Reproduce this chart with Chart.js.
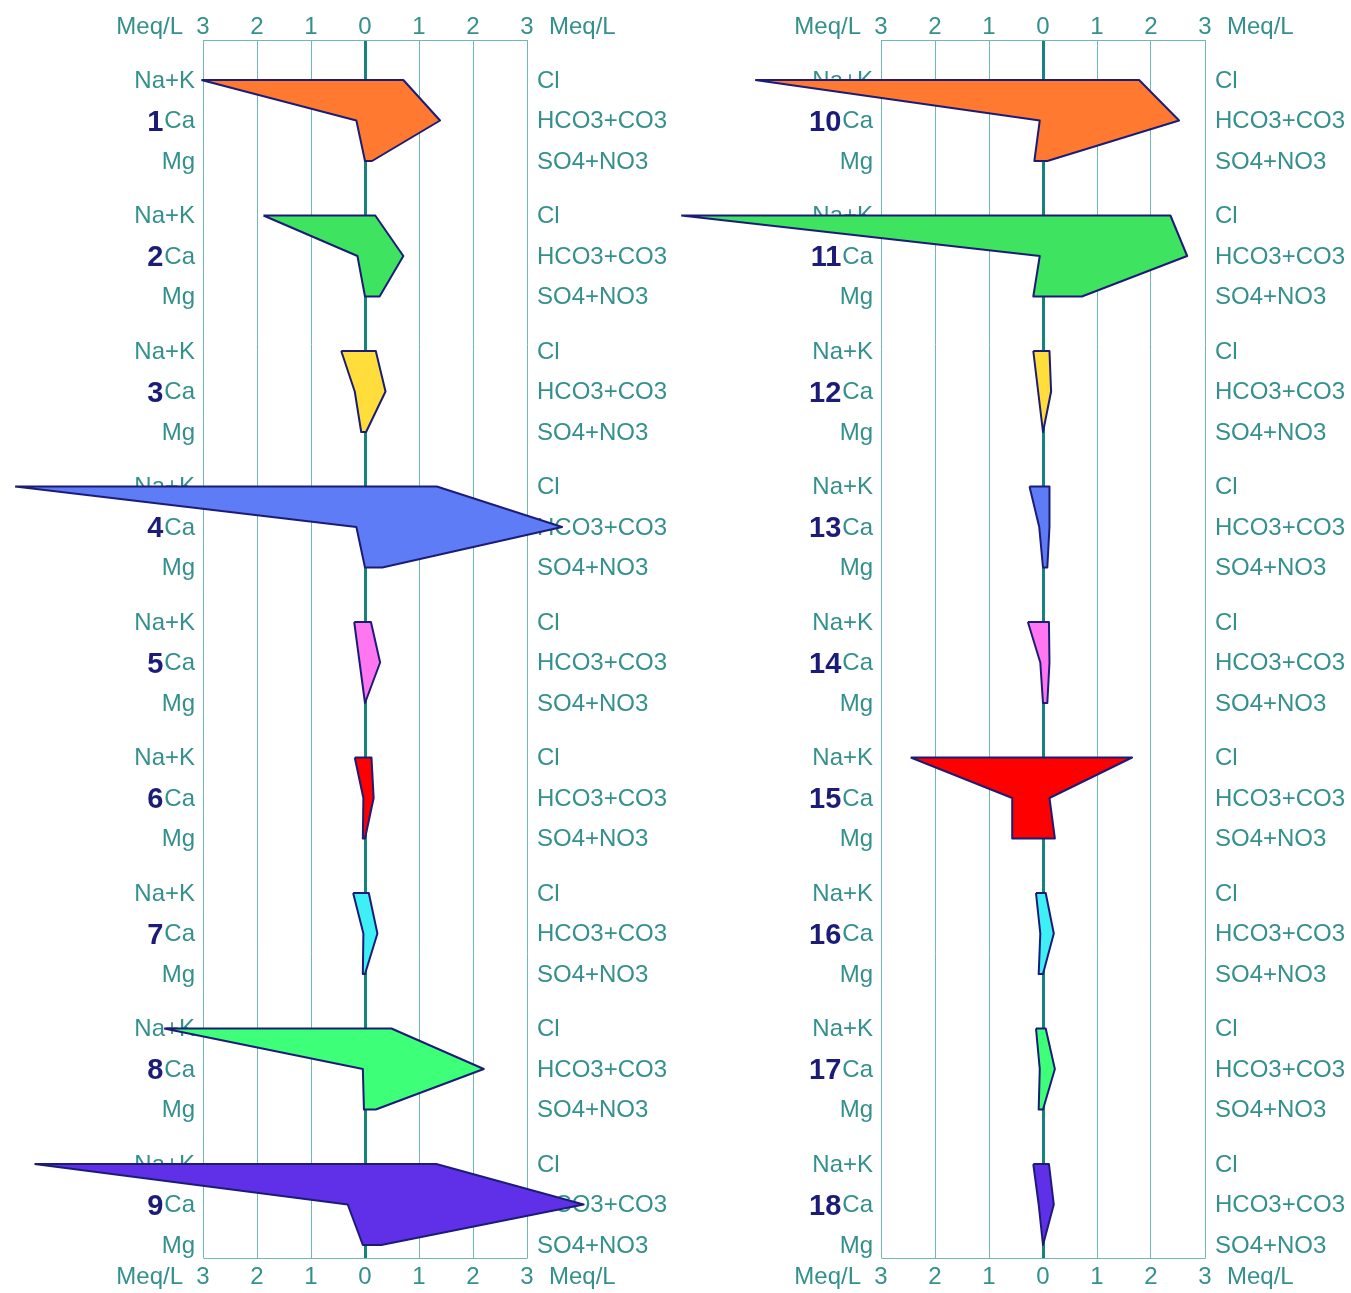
<!DOCTYPE html>
<html>
<head>
<meta charset="utf-8">
<script src="https://cdn.jsdelivr.net/npm/chart.js@4.4.1/dist/chart.umd.min.js"></script>
<style>
  html, body { margin: 0; padding: 0; background: #fff; }
  #wrap { position: relative; width: 1351px; height: 1293px; overflow: hidden; }
  canvas { position: absolute; top: 0; }
  #left { left: 0; }
  #right { left: 675px; }
</style>
</head>
<body>
<div id="wrap">
  <canvas id="left" width="675" height="1293"></canvas>
  <canvas id="right" width="676" height="1293"></canvas>
</div>
<script>
// sample ids, one stiff polygon each (meq/L)
const samples = ['1', '2', '3', '4', '5', '6', '7', '8', '9', '10', '11', '12', '13', '14', '15', '16', '17', '18'];
const naK  = [3.03, 1.88, 0.44, 6.48, 0.20, 0.19, 0.22, 3.72, 6.12, 5.33, 6.70, 0.18, 0.25, 0.28, 2.45, 0.13, 0.13, 0.18];
const ca   = [0.16, 0.14, 0.19, 0.16, 0.10, 0.03, 0.03, 0.04, 0.32, 0.06, 0.06, 0.09, 0.07, 0.05, 0.57, 0.05, 0.06, 0.08];
const mg   = [0.00, 0.00, 0.07, 0.00, 0.00, 0.04, 0.04, 0.02, 0.04, 0.16, 0.18, 0.00, 0.00, 0.00, 0.57, 0.08, 0.08, 0.00];
const cl   = [0.71, 0.19, 0.20, 1.33, 0.11, 0.12, 0.07, 0.49, 1.32, 1.78, 2.36, 0.12, 0.12, 0.11, 1.65, 0.05, 0.05, 0.11];
const hco3 = [1.39, 0.71, 0.38, 3.65, 0.28, 0.16, 0.23, 2.20, 4.05, 2.52, 2.67, 0.15, 0.12, 0.12, 0.12, 0.20, 0.22, 0.20];
const so4  = [0.13, 0.27, 0.02, 0.32, 0.00, 0.00, 0.00, 0.20, 0.30, 0.08, 0.72, 0.00, 0.08, 0.08, 0.22, 0.00, 0.00, 0.00];
const fillColors = ['#ff7a30', '#3ee35f', '#ffdd3a', '#5d7cf5', '#ff77f0', '#ff0000', '#3ef0f5', '#3dff78', '#6030e8',
                    '#ff7a30', '#3ee35f', '#ffdd3a', '#5d7cf5', '#ff77f0', '#ff0000', '#3ef0f5', '#3dff78', '#6030e8'];
const cationLabels = ['Na+K', 'Ca', 'Mg'];
const anionLabels = ['Cl', 'HCO3+CO3', 'SO4+NO3'];
const axisTicks = [-3, -2, -1, 0, 1, 2, 3];
const unitLabel = 'Meq/L';

const TEAL = '#34908c';
const GRID = '#6fb8b5';
const ZERO = '#17837f';
const NAVY = '#1c1c78';
const UNIT = 54;          // px per meq/L
const ROW = 40.5;         // px between ion rows
const STEP = 135.5 / ROW; // rows between samples
const LABEL_FONT = '24px "Liberation Sans", Arial, sans-serif';
const NUM_FONT = 'bold 29px "Liberation Sans", Arial, sans-serif';

Chart.defaults.font.family = '"Liberation Sans", Arial, sans-serif';

function makePanel(canvasId, from, to, zeroPx) {
    const canvas = document.getElementById(canvasId);
    const width = canvas.width;
    const ids = samples.slice(from, to);

    const datasets = ids.map((s, k) => {
        const i = from + k;
        const y0 = k * STEP;
        return {
            label: s,
            data: [
                { x: -naK[i], y: y0 },
                { x: -ca[i], y: y0 + 1 },
                { x: -mg[i], y: y0 + 2 },
                { x: so4[i], y: y0 + 2 },
                { x: hco3[i], y: y0 + 1 },
                { x: cl[i], y: y0 },
                { x: -naK[i], y: y0 }
            ],
            showLine: true,
            fill: 'shape',
            backgroundColor: fillColors[i],
            borderColor: NAVY,
            borderWidth: 2,
            borderJoinStyle: 'round',
            pointRadius: 0,
            tension: 0,
            clip: false
        };
    });

    const labelsPlugin = {
        id: 'stiffLabels',
        beforeDatasetsDraw(chart) {
            const { ctx, chartArea, scales: { x, y } } = chart;
            const xl = x.getPixelForValue(-3);
            const xr = x.getPixelForValue(3);
            ctx.save();
            // frame top / bottom
            ctx.strokeStyle = GRID;
            ctx.lineWidth = 1;
            ctx.beginPath();
            ctx.moveTo(Math.round(xl) + 0.5, Math.round(chartArea.top) + 0.5);
            ctx.lineTo(Math.round(xr) + 0.5, Math.round(chartArea.top) + 0.5);
            ctx.moveTo(Math.round(xl) + 0.5, Math.round(chartArea.bottom) + 0.5);
            ctx.lineTo(Math.round(xr) + 0.5, Math.round(chartArea.bottom) + 0.5);
            ctx.stroke();

            ctx.textBaseline = 'middle';
            ctx.font = LABEL_FONT;
            ctx.fillStyle = TEAL;
            const caW = ctx.measureText('Ca').width;
            ids.forEach((s, k) => {
                for (let r = 0; r < 3; r++) {
                    const yp = y.getPixelForValue(k * STEP + r) + 1;
                    ctx.textAlign = 'right';
                    ctx.fillText(cationLabels[r], xl - 8, yp);
                    ctx.textAlign = 'left';
                    ctx.fillText(anionLabels[r], xr + 10, yp);
                }
            });
            ctx.textAlign = 'right';
            ctx.fillText(unitLabel, xl - 20, chartArea.top - 13);
            ctx.fillText(unitLabel, xl - 20, chartArea.bottom + 19);
            ctx.textAlign = 'left';
            ctx.fillText(unitLabel, xr + 22, chartArea.top - 13);
            ctx.fillText(unitLabel, xr + 22, chartArea.bottom + 19);

            ctx.font = NUM_FONT;
            ctx.fillStyle = NAVY;
            ctx.textAlign = 'right';
            ids.forEach((s, k) => {
                const yp = y.getPixelForValue(k * STEP + 1) + 2;
                ctx.fillText(s, xl - 8 - caW - 1, yp);
            });
            ctx.restore();
        }
    };

    const tickOpts = (pad) => ({
        color: TEAL,
        font: { size: 24 },
        padding: pad,
        autoSkip: false,
        maxRotation: 0,
        callback: v => String(Math.abs(v))
    });

    return new Chart(canvas, {
        type: 'scatter',
        data: { datasets },
        options: {
            responsive: false,
            animation: false,
            layout: { padding: 0 },
            plugins: { legend: { display: false }, tooltip: { enabled: false } },
            scales: {
                x: {
                    type: 'linear',
                    position: 'bottom',
                    min: -zeroPx / UNIT,
                    max: (width - zeroPx) / UNIT,
                    afterBuildTicks: s => { s.ticks = axisTicks.map(v => ({ value: v })); },
                    afterFit: s => { s.height = 35; },
                    grid: {
                        drawTicks: false,
                        color: c => (c.tick && c.tick.value === 0 ? ZERO : GRID),
                        lineWidth: c => (c.tick && c.tick.value === 0 ? 3 : 1)
                    },
                    border: { display: false },
                    ticks: tickOpts(5)
                },
                x2: {
                    type: 'linear',
                    position: 'top',
                    min: -zeroPx / UNIT,
                    max: (width - zeroPx) / UNIT,
                    afterBuildTicks: s => { s.ticks = axisTicks.map(v => ({ value: v })); },
                    afterFit: s => { s.height = 40; },
                    grid: { display: false, drawTicks: false },
                    border: { display: false },
                    ticks: tickOpts(-2)
                },
                y: {
                    type: 'linear',
                    display: false,
                    reverse: true,
                    min: -40 / ROW,
                    max: 1178 / ROW
                }
            }
        },
        plugins: [labelsPlugin]
    });
}

makePanel('left', 0, 9, 365);
makePanel('right', 9, 18, 368);
</script>
</body>
</html>
